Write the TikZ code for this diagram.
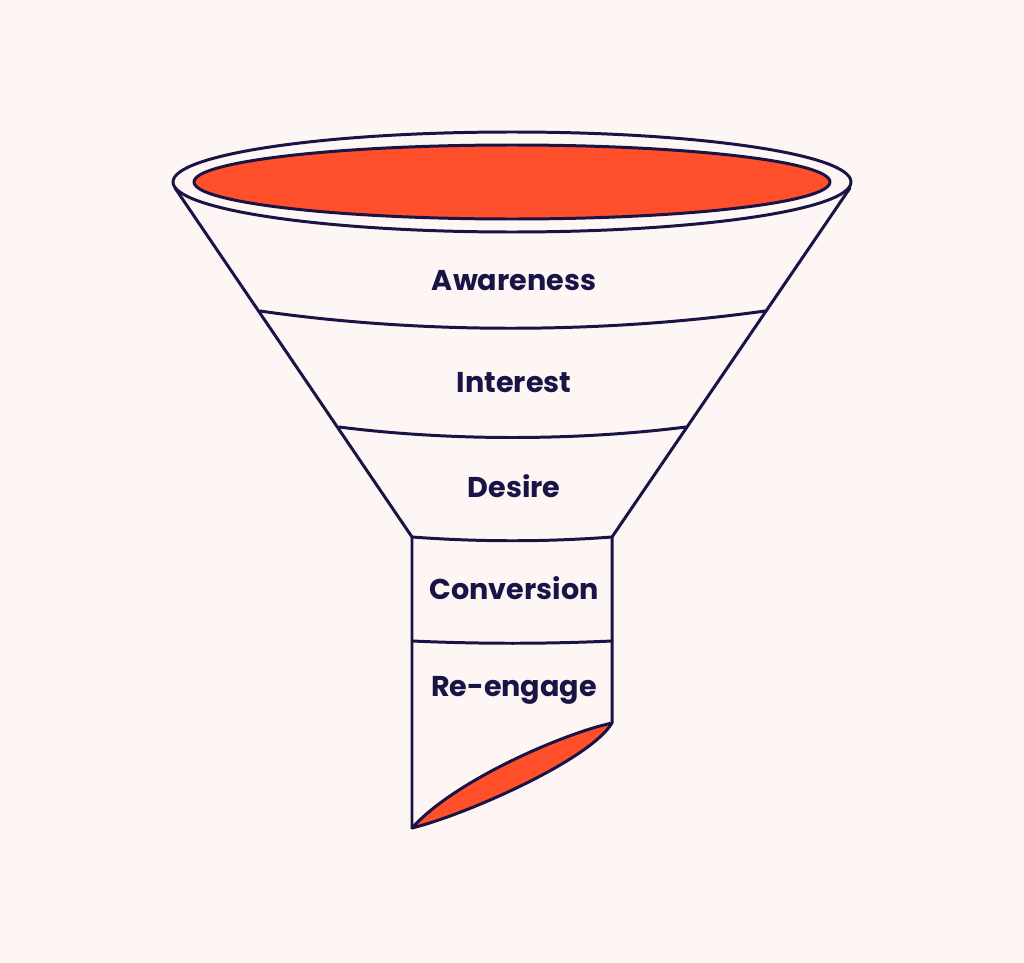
\documentclass[tikz,border=0pt]{standalone}
\usepackage{fontspec}
\setmainfont{Poppins}
\definecolor{bgpink}{HTML}{FDF6F5}
\definecolor{navy}{HTML}{1A1446}
\definecolor{funnelred}{HTML}{FF4F2B}

\begin{document}
\begin{tikzpicture}[x=0.02cm,y=-0.02cm,
  edge/.style={draw=navy,line width=1.7pt,line join=round,line cap=round},
  stage/.style={font=\fontsize{16.3}{19}\selectfont\bfseries,text=navy}]
\fill[bgpink] (0,0) rectangle (1024,963);
\useasboundingbox (0,0) rectangle (1024,963);

% rim
\draw[edge,fill=bgpink] (512,182) ellipse [x radius=339,y radius=50];
\draw[edge,fill=funnelred] (512,182) ellipse [x radius=318,y radius=37];

% cone and tube
\draw[edge] (175,188) -- (412,537) -- (412,828);
\draw[edge] (850,188) -- (612,537) -- (612,723);

% band lines
\draw[edge] (260,311) .. controls (420,334) and (600,334) .. (765,311);
\draw[edge] (339,427) .. controls (450,441) and (575,441) .. (686,427);
\draw[edge] (412,537) .. controls (480,542) and (545,542) .. (612,537);
\draw[edge] (412,641) .. controls (480,644) and (545,644) .. (612,641);

% cut at the bottom
\draw[edge,fill=funnelred] (412,828) .. controls (455,780) and (565,733) .. (612,723)
  .. controls (590,760) and (465,815) .. cycle;

\node[stage] (awareness) at (514,281) {Awareness};
\node[stage] (interest) at (514,383) {Interest};
\node[stage] (desire) at (514,486) {Desire};
\node[stage] (conversion) at (514,588) {Conversion};
\node[stage] (reengage) at (514,690) {Re-engage};
\end{tikzpicture}
\end{document}
